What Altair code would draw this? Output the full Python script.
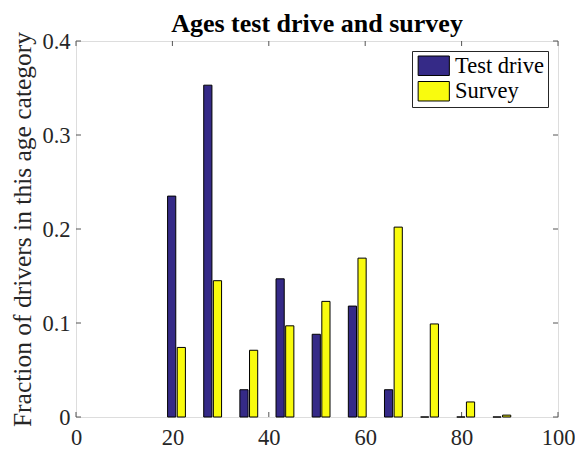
import altair as alt
import pandas as pd

# ---- data ----
centers = [20.85, 28.35, 35.85, 43.35, 50.85, 58.35, 65.85, 73.35, 80.85, 88.35]
test_drive = [0.235, 0.353, 0.029, 0.147, 0.088, 0.118, 0.029, 0.0, 0.0, 0.0]
survey = [0.074, 0.145, 0.071, 0.097, 0.123, 0.169, 0.202, 0.099, 0.016, 0.002]
series = ["Test drive", "Survey"]
colors = ["#352A87", "#F9FB0E"]
x_ticks = [0, 20, 40, 60, 80, 100]
y_ticks = [0, 0.1, 0.2, 0.3, 0.4]

W, H = 482, 376
FONT = "Liberation Serif"
AX = "#262626"

rows = []
for c, t, s in zip(centers, test_drive, survey):
    rows.append({"series": "Test drive", "x0": c - 1.85, "x1": c - 0.15, "value": t})
    rows.append({"series": "Survey", "x0": c + 0.15, "x1": c + 1.85, "value": s})
df = pd.DataFrame(rows)

xs = alt.Scale(domain=[0, 100], nice=False, zero=False)
ys = alt.Scale(domain=[0, 0.4], nice=False)

bars = alt.Chart(df).mark_rect(stroke="black", strokeWidth=1).encode(
    x=alt.X("x0:Q", scale=xs,
            axis=alt.Axis(values=x_ticks, tickSize=0, domain=False, grid=False,
                          labelPadding=9, title=None, labelFontSize=22.5,
                          labelFlush=False, labelOverlap=False,
                          labelFont=FONT, labelColor=AX)),
    x2="x1:Q",
    y=alt.Y("value:Q", scale=ys,
            axis=alt.Axis(values=y_ticks, format="~g", tickSize=0, domain=False, grid=False,
                          labelPadding=6, labelFontSize=22.5, labelFont=FONT, labelColor=AX,
                          labelFlush=False, labelOverlap=False,
                          title="Fraction of drivers in this age category",
                          titleFont=FONT, titleFontSize=25.5, titleFontWeight="normal",
                          titleColor=AX, titleX=-45.5, titleY=188,
                          titleBaseline="alphabetic")),
    y2=alt.datum(0),
    color=alt.Color("series:N", sort=series,
                    scale=alt.Scale(domain=series, range=colors),
                    legend=alt.Legend(title=None, orient="none", legendX=336, legendY=10,
                                      symbolType="M-1.6,-1L1.6,-1L1.6,1L-1.6,1Z",
                                      symbolSize=380, symbolStrokeColor="black",
                                      symbolStrokeWidth=1, labelFont=FONT,
                                      labelFontSize=22.5, labelColor="black",
                                      padding=3.5, rowPadding=1.5, strokeColor=AX,
                                      fillColor="white", symbolOffset=7, labelOffset=10)),
)

xt = pd.DataFrame({"v": x_ticks})
yt = pd.DataFrame({"v": y_ticks})
tick_style = dict(color="#555555", strokeWidth=1)

xb = alt.Chart(xt).mark_rule(**tick_style).encode(x=alt.X("v:Q", scale=xs), y=alt.value(H), y2=alt.value(H - 5))
xtop = alt.Chart(xt).mark_rule(**tick_style).encode(x=alt.X("v:Q", scale=xs), y=alt.value(0), y2=alt.value(5))
yl = alt.Chart(yt).mark_rule(**tick_style).encode(y=alt.Y("v:Q", scale=ys), x=alt.value(0), x2=alt.value(5))
yr = alt.Chart(yt).mark_rule(**tick_style).encode(y=alt.Y("v:Q", scale=ys), x=alt.value(W), x2=alt.value(W - 5))

chart = alt.layer(xb, xtop, yl, yr, bars).properties(
    width=W, height=H,
    title=alt.TitleParams("Ages test drive and survey", font=FONT, fontSize=26,
                          fontWeight="bold", color="black", anchor="middle",
                          offset=6, dy=13),
    autosize=alt.AutoSizeParams(type="none"),
    padding={"left": 68, "top": 33, "right": 17, "bottom": 32},
).configure_view(stroke=AX, strokeWidth=1).configure(background="white")

chart.save("out.html", embed_options={"renderer": "svg", "actions": False})
